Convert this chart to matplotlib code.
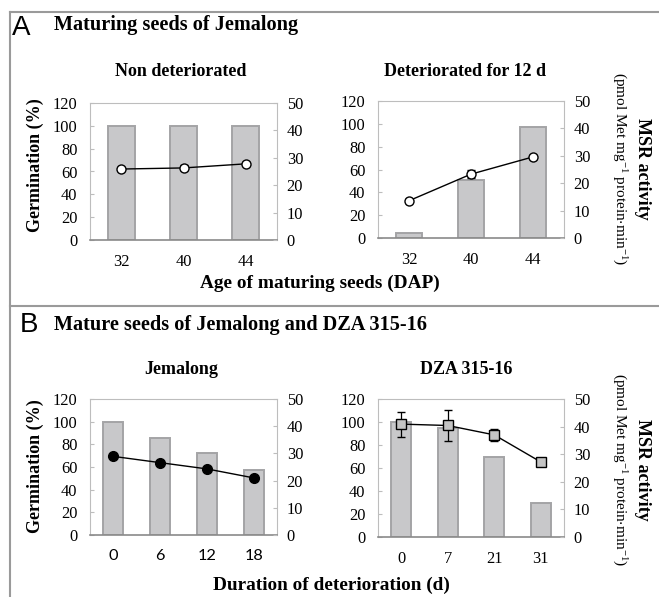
import numpy as np
import matplotlib
matplotlib.use("Agg")
import matplotlib.pyplot as plt
from matplotlib.lines import Line2D

plt.rcParams["font.family"] = ["Liberation Serif", "DejaVu Serif"]
plt.rcParams["mathtext.default"] = "regular"

# A: maturing seeds of Jemalong
ages = ["32", "40", "44"]
nd_germ = [100, 100, 100]
nd_msr = [25.9, 26.3, 27.8]
nd_err = [0.4, 0.9, 0.5]
det_germ = [4, 51, 97]
det_msr = [13.6, 23.3, 29.6]
det_err = [0.6, 1.5, 0.6]

# B: mature seeds, days of deterioration
jem_days = ["0", "6", "12", "18"]
jem_germ = [100, 86, 72, 57]
jem_msr = [28.9, 26.6, 24.3, 21.0]
jem_err = [0.5, 0.5, 0.5, 0.5]
dza_days = ["0", "7", "21", "31"]
dza_germ = [100, 95, 70, 30]
dza_msr = [40.9, 40.4, 37.0, 27.2]
dza_err = [4.5, 5.5, 2.3, 1.2]

W, H = 659, 597
fig = plt.figure(figsize=(W / 100, H / 100), dpi=100)

BAR_FC = "#c8c8ca"
BAR_EC = "#a4a4a6"
SPINE = "#bdbdbd"
TICK_FS = 11.8


def px_axes(x0, y0, x1, y1):
    return fig.add_axes([x0 / W, 1 - y1 / H, (x1 - x0) / W, (y1 - y0) / H])


def panel(rect, labels, germ, msr, err, marker, mfc, ms, tick_font=None):
    ax = px_axes(*rect)
    x = np.arange(len(labels))
    ax.bar(x, germ, width=0.43, color=BAR_FC, edgecolor=BAR_EC, linewidth=1.4, zorder=2)
    ax.set_xlim(-0.5, len(labels) - 0.5)
    ax.set_ylim(0, 120)
    ax.set_yticks(range(0, 121, 20))
    ax.set_xticks(x)
    ax.set_xticklabels(labels)
    for s in ["left", "right", "top"]:
        ax.spines[s].set_color(SPINE)
    ax.spines["bottom"].set_color("#8a8a8a")
    ax.spines["bottom"].set_linewidth(1.2)
    ax.tick_params(axis="y", direction="in", length=3, color=SPINE, labelsize=TICK_FS, pad=9)
    ax.tick_params(axis="x", length=0, labelsize=TICK_FS, pad=10)
    if tick_font:
        for t in ax.get_xticklabels():
            t.set_family(tick_font)

    ax2 = ax.twinx()
    ax2.set_ylim(0, 50)
    ax2.set_yticks(range(0, 51, 10))
    for s in ax2.spines.values():
        s.set_visible(False)
    ax2.tick_params(axis="y", direction="in", length=3, color=SPINE, labelsize=TICK_FS, pad=7)
    ax2.errorbar(x, msr, yerr=err, color="black", linewidth=1, elinewidth=0.9,
                 capsize=3, capthick=0.9, marker=marker, markersize=ms,
                 markerfacecolor=mfc, markeredgecolor="black", markeredgewidth=1, zorder=3)
    return ax


panel((90, 103, 277, 240), ages, nd_germ, nd_msr, nd_err, "o", "white", 6.5)
panel((378, 101, 564, 238), ages, det_germ, det_msr, det_err, "o", "white", 6.5)
panel((90, 399, 277, 535), jem_days, jem_germ, jem_msr, jem_err, "o", "black", 7,
      tick_font="Lato")
panel((378, 399, 564, 537), dza_days, dza_germ, dza_msr, dza_err, "s", "#c4c4c4", 6.5)


def ftext(x, y, s, **kw):
    fig.text(x / W, 1 - y / H, s, **kw)


# frame lines around the two groups
frame = dict(color="#9a9a9a", linewidth=1.5, transform=fig.transFigure)
fig.add_artist(Line2D([10 / W, 1], [1 - 12 / H] * 2, **frame))
fig.add_artist(Line2D([10 / W, 1], [1 - 306 / H] * 2, **frame))
fig.add_artist(Line2D([10 / W] * 2, [1 - 12 / H, 0], **frame))

# panel letters and headings
ftext(12, 28, "A", family="Liberation Sans", fontsize=20, va="center")
ftext(54, 25, "Maturing seeds of Jemalong", fontsize=14.6, weight="bold", va="center")
ftext(20, 325, "B", family="Liberation Sans", fontsize=20, va="center")
ftext(54, 325, "Mature seeds of Jemalong and DZA 315-16", fontsize=14.6,
      weight="bold", va="center")

ftext(181, 71, "Non deteriorated", fontsize=13, weight="bold", ha="center", va="center")
ftext(465, 71, "Deteriorated for 12 d", fontsize=13, weight="bold", ha="center", va="center")
ftext(181, 370, "Jemalong", fontsize=13, weight="bold", ha="center", va="center")
ftext(466, 370, "DZA 315-16", fontsize=13, weight="bold", ha="center", va="center")

ftext(320, 283, "Age of maturing seeds (DAP)", fontsize=13.9, weight="bold",
      ha="center", va="center")
ftext(331, 585, "Duration of deterioration (d)", fontsize=13.9, weight="bold",
      ha="center", va="center")

# axis titles
for yc in (165, 466):
    ftext(35, yc, "Germination (%)", fontsize=13, weight="bold", rotation=90,
          ha="center", va="center")
    ftext(642, yc + 4, "MSR activity", fontsize=13, weight="bold", rotation=270,
          ha="center", va="center")
    ftext(619, yc + 4, "(pmol Met mg$^{-1}$ protein$\\cdot$min$^{-1}$)", fontsize=11,
          rotation=270, ha="center", va="center")

fig.savefig("out.png", dpi=100)
